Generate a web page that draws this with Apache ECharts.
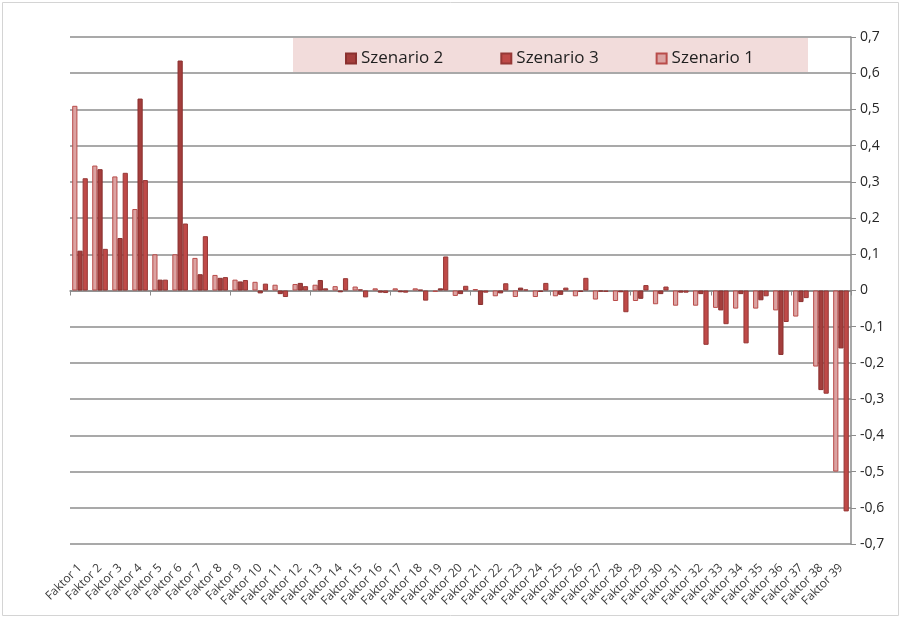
<!DOCTYPE html>
<html>
<head>
<meta charset="utf-8">
<script src="https://cdn.jsdelivr.net/npm/echarts@6/dist/echarts.min.js"></script>
<style>
  html, body { margin: 0; padding: 0; background: #fff; }
  #chart { width: 902px; height: 619px; }
</style>
</head>
<body>
<div id="chart"></div>
<script>
// Factor categories along the horizontal axis
const categories = [
  'Faktor 1', 'Faktor 2', 'Faktor 3', 'Faktor 4', 'Faktor 5', 'Faktor 6', 'Faktor 7', 'Faktor 8',
  'Faktor 9', 'Faktor 10', 'Faktor 11', 'Faktor 12', 'Faktor 13', 'Faktor 14', 'Faktor 15', 'Faktor 16',
  'Faktor 17', 'Faktor 18', 'Faktor 19', 'Faktor 20', 'Faktor 21', 'Faktor 22', 'Faktor 23', 'Faktor 24',
  'Faktor 25', 'Faktor 26', 'Faktor 27', 'Faktor 28', 'Faktor 29', 'Faktor 30', 'Faktor 31', 'Faktor 32',
  'Faktor 33', 'Faktor 34', 'Faktor 35', 'Faktor 36', 'Faktor 37', 'Faktor 38', 'Faktor 39'
];

// Scenario values per factor
const szenario1 = [
  0.51, 0.345, 0.315, 0.225, 0.10, 0.10, 0.09, 0.043, 0.03, 0.024,
  0.016, 0.018, 0.016, 0.012, 0.011, 0.006, 0.006, 0.006, -0.004, -0.015,
  0.004, -0.016, -0.018, -0.018, -0.016, -0.016, -0.025, -0.029, -0.029, -0.038,
  -0.042, -0.042, -0.048, -0.05, -0.05, -0.055, -0.072, -0.21, -0.50
];
const szenario2 = [
  0.11, 0.335, 0.145, 0.53, 0.03, 0.635, 0.045, 0.035, 0.025, -0.008,
  -0.01, 0.021, 0.029, -0.005, 0.003, -0.006, -0.005, 0.002, 0.006, -0.01,
  -0.04, -0.008, 0.008, -0.004, -0.012, -0.004, -0.003, -0.005, -0.023, -0.01,
  -0.006, -0.01, -0.055, -0.01, -0.027, -0.178, -0.032, -0.275, -0.16
];
const szenario3 = [
  0.31, 0.115, 0.325, 0.305, 0.03, 0.185, 0.15, 0.037, 0.029, 0.019,
  -0.018, 0.012, 0.006, 0.034, -0.019, -0.007, -0.006, -0.028, 0.094, 0.013,
  -0.006, 0.02, 0.003, 0.021, 0.008, 0.035, -0.004, -0.06, 0.015, 0.011,
  -0.006, -0.15, -0.093, -0.146, -0.016, -0.087, -0.021, -0.285, -0.61
];

// Value axis range
const yMin = -0.7;
const yMax = 0.7;
const yStep = 0.1;

const chart = echarts.init(document.getElementById('chart'), null, { renderer: 'canvas' });

function fmtComma(v) {
  if (Math.abs(v) < 1e-9) return '0';
  return v.toFixed(1).replace('.', ',');
}

const option = {
  animation: false,
  backgroundColor: '#ffffff',
  graphic: [
    {
      type: 'rect',
      shape: { x: 2.5, y: 2.5, width: 896, height: 613 },
      style: { fill: 'none', stroke: '#d4d4d4', lineWidth: 1 },
      z: -10
    },
    {
      type: 'rect',
      shape: { x: 293, y: 38, width: 515, height: 34 },
      style: { fill: '#f2dcdb' },
      z: 1
    }
  ],
  legend: {
    data: ['Szenario 2', 'Szenario 3', 'Szenario 1'],
    left: 340,
    top: 45,
    itemWidth: 10,
    itemHeight: 10,
    itemGap: 57,
    icon: 'rect',
    z: 5,
    textStyle: { fontFamily: 'Open Sans', fontSize: 17, color: '#1f1f1f' }
  },
  grid: { left: 70, right: 51, top: 37, bottom: 75, containLabel: false },
  xAxis: [
    {
      type: 'category',
      data: categories,
      position: 'bottom',
      axisLine: { onZero: true, lineStyle: { color: '#8c8c8c', width: 1.5 } },
      axisTick: { show: true, length: 5, lineStyle: { color: '#8c8c8c' } },
      axisLabel: { show: false },
      splitLine: { show: false }
    },
    {
      type: 'category',
      data: categories,
      position: 'bottom',
      axisLine: { show: false },
      axisTick: { show: false },
      axisLabel: {
        show: true,
        interval: 0,
        rotate: 45,
        margin: 22,
        fontFamily: 'Open Sans',
        fontSize: 12,
        color: '#3a3a3a'
      }
    }
  ],
  yAxis: {
    type: 'value',
    position: 'right',
    min: yMin,
    max: yMax,
    interval: yStep,
    axisLine: { show: true, lineStyle: { color: '#8c8c8c', width: 1.5 } },
    axisTick: { show: true, inside: false, length: 5, lineStyle: { color: '#8c8c8c' } },
    axisLabel: {
      margin: 9,
      fontFamily: 'Open Sans',
      fontSize: 14,
      color: '#262626',
      formatter: fmtComma
    },
    splitLine: { show: true, lineStyle: { color: '#8c8c8c', width: 1.5 } }
  },
  series: [
    {
      name: 'Szenario 1',
      type: 'bar',
      data: szenario1,
      barGap: '0%',
      barCategoryGap: '22%',
      itemStyle: { color: '#dba3a2', borderColor: '#b94c4a', borderWidth: 1 }
    },
    {
      name: 'Szenario 2',
      type: 'bar',
      data: szenario2,
      itemStyle: { color: '#a43e3c', borderColor: '#8a302f', borderWidth: 1 }
    },
    {
      name: 'Szenario 3',
      type: 'bar',
      data: szenario3,
      itemStyle: { color: '#bf4a48', borderColor: '#963836', borderWidth: 1 }
    }
  ]
};

chart.setOption(option);
</script>
</body>
</html>
